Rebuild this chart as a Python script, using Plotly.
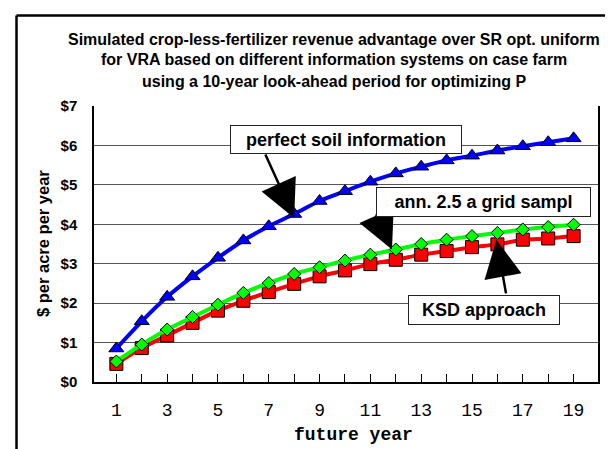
import plotly.graph_objects as go

years = list(range(1, 20))
tick_labels = [str(y) if y % 2 == 1 else "" for y in years]

perfect_soil = [0.85, 1.54, 2.16, 2.68, 3.15, 3.59, 3.95, 4.26, 4.59, 4.84,
                5.08, 5.29, 5.46, 5.62, 5.74, 5.87, 5.98, 6.08, 6.18]
grid_sampl = [0.52, 0.95, 1.33, 1.65, 1.96, 2.26, 2.51, 2.74, 2.91, 3.08,
              3.23, 3.36, 3.50, 3.61, 3.70, 3.78, 3.87, 3.93, 3.99]
ksd = [0.46, 0.86, 1.18, 1.50, 1.81, 2.06, 2.28, 2.49, 2.68, 2.83,
       2.99, 3.10, 3.23, 3.32, 3.42, 3.49, 3.61, 3.64, 3.70]

y_ticks = [0, 1, 2, 3, 4, 5, 6, 7]
y_tick_labels = ["$0", "$1", "$2", "$3", "$4", "$5", "$6", "$7"]

title_lines = [
    "Simulated crop-less-fertilizer revenue advantage over SR opt. uniform",
    "for VRA based on different information systems on case farm",
    "using a 10-year look-ahead period for optimizing P",
]

SANS = "Liberation Sans, Arial, sans-serif"
MONO = "Liberation Mono, Courier New, monospace"

fig = go.Figure()
fig.add_trace(go.Scatter(
    x=years, y=ksd, mode="lines+markers", name="KSD approach",
    line=dict(color="#FF0000", width=4, shape="spline"),
    marker=dict(symbol="square", size=13, color="#FF0000",
                line=dict(color="black", width=1))))
fig.add_trace(go.Scatter(
    x=years, y=grid_sampl, mode="lines+markers", name="ann. 2.5 a grid sampl",
    line=dict(color="#00FF00", width=4, shape="spline"),
    marker=dict(symbol="diamond", size=10, color="#00FF00",
                line=dict(color="black", width=1))))
fig.add_trace(go.Scatter(
    x=years, y=perfect_soil, mode="lines+markers", name="perfect soil information",
    line=dict(color="#0000FF", width=4, shape="spline"),
    marker=dict(symbol="triangle-up", size=13, color="#0000FF",
                line=dict(color="black", width=1))))

L, R, T, B = 86, 23, 98, 75
W, H = 613, 449
PW, PH = W - L - R, H - T - B


def px_x(p):
    return (p - L) / PW


def px_y(p):
    return (H - B - p) / PH


annotations = []
for i, (line, yc) in enumerate(zip(title_lines, [31, 52, 73])):
    annotations.append(dict(
        text="<b>%s</b>" % line, xref="paper", yref="paper",
        x=px_x(326), y=px_y(yc), xanchor="center", yanchor="middle",
        showarrow=False, font=dict(family=SANS, size=16, color="black")))

annotations.append(dict(
    text="<b>$ per acre per year</b>", xref="paper", yref="paper",
    x=px_x(35), y=0.5, textangle=-90, xanchor="center", yanchor="middle",
    showarrow=False, font=dict(family=SANS, size=16.5, color="black")))
annotations.append(dict(
    text="<b>future year</b>", xref="paper", yref="paper",
    x=px_x(345), y=px_y(427), xanchor="center", yanchor="middle",
    showarrow=False, font=dict(family=MONO, size=18, color="black")))

# arrows (tail -> tip)
arrows = [
    (6.84, 5.81, 8.0, 4.16),
    (11.2, 4.29, 11.85, 3.36),
    (16.35, 2.21, 15.96, 3.61),
]
for ax, ay, x, y in arrows:
    annotations.append(dict(
        text="", x=x, y=y, ax=ax, ay=ay, xref="x", yref="y",
        axref="x", ayref="y", showarrow=True, arrowhead=2,
        arrowsize=3.0, arrowwidth=2.5, arrowcolor="black", standoff=0,
        startstandoff=0))

boxes = [
    ("perfect soil information", 10.04, 6.16, 230, 27),
    ("ann. 2.5 a grid sampl", 15.47, 4.56, 213, 28),
    ("KSD approach", 15.48, 1.82, 150, 28),
]
for text, x, y, w, h in boxes:
    annotations.append(dict(
        text="<b>%s</b>" % text, x=x, y=y, xref="x", yref="y",
        showarrow=False, width=w, height=h, borderpad=0, borderwidth=1,
        bordercolor="#222", bgcolor="white", align="center",
        xanchor="center", yanchor="middle",
        font=dict(family=SANS, size=18, color="black")))

fig.update_layout(
    width=W, height=H,
    margin=dict(l=L, r=R, t=T, b=B, pad=0),
    paper_bgcolor="white", plot_bgcolor="white",
    showlegend=False,
    annotations=annotations,
    shapes=[
        dict(type="line", xref="paper", yref="paper",
             x0=px_x(8.5), x1=px_x(8.5), y0=px_y(7.5), y1=px_y(460),
             line=dict(color="black", width=2.5)),
        dict(type="line", xref="paper", yref="paper",
             x0=px_x(8.5), x1=px_x(620), y0=px_y(7.5), y1=px_y(7.5),
             line=dict(color="black", width=2.5)),
    ],
)

fig.update_xaxes(
    range=[0.12, 19.96], tickmode="array", tickvals=years, ticktext=tick_labels,
    ticks="inside", ticklen=8, tickwidth=1, tickcolor="black",
    showline=True, linecolor="black", linewidth=2, mirror=False,
    showgrid=False, zeroline=False, ticklabelstandoff=10,
    tickfont=dict(family=MONO, size=18, color="black"))
fig.update_yaxes(
    range=[0, 7], tickmode="array", tickvals=y_ticks, ticktext=["<b>%s</b>" % t for t in y_tick_labels],
    ticks="", showline=True, linecolor="black", linewidth=1.5, mirror=True,
    showgrid=True, gridcolor="#555", gridwidth=1, zeroline=False,
    ticklabelstandoff=12,
    tickfont=dict(family=SANS, size=15, color="black"))

fig.write_html("out.html")
